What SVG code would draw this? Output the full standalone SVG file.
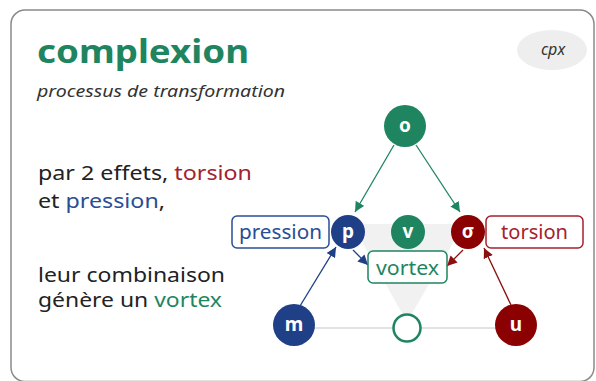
<svg xmlns="http://www.w3.org/2000/svg" width="596" height="381" viewBox="0 0 596 381">
<defs>
<style>
.sans{font-family:"Noto Sans","Open Sans","Liberation Sans",sans-serif}
.body{font-size:19px;fill:#222}
.node text,.lbl{font-family:"Noto Sans","Liberation Sans",sans-serif}
.letter{fill:#fff;font-size:19px;font-weight:bold;text-anchor:middle}
.edge{fill:none;stroke-width:1.3}
.g{stroke:#1e8560}.b{stroke:#1f3f87}.r{stroke:#8b1010}
</style>
<marker id="ag" viewBox="0 0 10 10" refX="10" refY="5" markerWidth="10" markerHeight="10" markerUnits="userSpaceOnUse" orient="auto"><path d="M0,0L10,5L0,10z" fill="#1e8560"/></marker>
<marker id="ab" viewBox="0 0 10 10" refX="10" refY="5" markerWidth="10" markerHeight="10" markerUnits="userSpaceOnUse" orient="auto"><path d="M0,0L10,5L0,10z" fill="#1f3f87"/></marker>
<marker id="ar" viewBox="0 0 10 10" refX="10" refY="5" markerWidth="10" markerHeight="10" markerUnits="userSpaceOnUse" orient="auto"><path d="M0,0L10,5L0,10z" fill="#8b1010"/></marker>
</defs>
<rect x="11" y="10" width="583" height="371.5" rx="14" fill="#fff" stroke="#8a8a8a" stroke-width="1.5"/>
<g id="header">
<text x="37" y="63" class="sans" font-size="33" font-weight="bold" fill="#1e8560" textLength="212" lengthAdjust="spacingAndGlyphs">complexion</text>
<text x="37" y="97" class="sans" font-size="16" font-style="italic" fill="#333" textLength="248" lengthAdjust="spacingAndGlyphs">processus de transformation</text>
<ellipse cx="552" cy="50" rx="35" ry="20" fill="#eeeeee"/>
<text x="553" y="55" class="sans" font-size="16" font-style="italic" fill="#333" text-anchor="middle">cpx</text>
</g>
<g id="body" class="sans body">
<text x="38" y="180" textLength="214" lengthAdjust="spacingAndGlyphs">par 2 effets, <tspan fill="#a3222e">torsion</tspan></text>
<text x="38" y="208" textLength="127" lengthAdjust="spacingAndGlyphs">et <tspan fill="#2a4d94">pression</tspan>,</text>
<text x="38" y="282" textLength="187" lengthAdjust="spacingAndGlyphs">leur combinaison</text>
<text x="38" y="307" textLength="184" lengthAdjust="spacingAndGlyphs">génère un <tspan fill="#1e8560">vortex</tspan></text>
</g>
<g id="background">
<polygon points="352,224 464,224 407,322" fill="#f1f1f1"/>
<line x1="294" y1="328" x2="516" y2="328" stroke="#e2e2e2" stroke-width="2"/>
</g>
<g id="connectors">
<line class="edge g" x1="394" y1="145" x2="355" y2="212" marker-end="url(#ag)"/>
<line class="edge g" x1="416" y1="145" x2="460" y2="212" marker-end="url(#ag)"/>
<line class="edge b" x1="300" y1="306" x2="336" y2="247" marker-end="url(#ab)"/>
<line class="edge b" x1="353" y1="250" x2="368" y2="265" marker-end="url(#ab)"/>
<line class="edge r" x1="463" y1="250" x2="447" y2="266" marker-end="url(#ar)"/>
<line class="edge r" x1="511" y1="305" x2="484" y2="248" marker-end="url(#ar)"/>
</g>
<g id="node-o" class="node"><circle cx="405" cy="126" r="21" fill="#1e8560"/><text x="405" y="132" class="letter">o</text></g>
<g id="node-p" class="node"><circle cx="348" cy="232" r="17" fill="#1f3f87"/><text x="348" y="238" class="letter">p</text></g>
<g id="node-v" class="node"><circle cx="408" cy="232" r="17" fill="#1e8560"/><text x="408" y="238" class="letter">v</text></g>
<g id="node-sigma" class="node"><circle cx="468" cy="232" r="17" fill="#8b0000"/><text x="468" y="238" class="letter">σ</text></g>
<g id="node-m" class="node"><circle cx="294" cy="325" r="21" fill="#1f3f87"/><text x="294" y="331" class="letter">m</text></g>
<g id="node-u" class="node"><circle cx="516" cy="325" r="21" fill="#8b0000"/><text x="516" y="331" class="letter">u</text></g>
<g id="node-center" class="node"><circle cx="407" cy="328" r="13.5" fill="#fff" stroke="#1e8560" stroke-width="2.5"/></g>
<g id="label-pression"><rect x="232" y="216" width="97" height="32" rx="5" fill="#fff" stroke="#2a4d94" stroke-width="1.5"/><text x="280.5" y="239" class="lbl" font-size="19" fill="#2a4d94" text-anchor="middle" textLength="83" lengthAdjust="spacingAndGlyphs">pression</text></g>
<g id="label-torsion"><rect x="486" y="216" width="97" height="32" rx="5" fill="#fff" stroke="#a3222e" stroke-width="1.5"/><text x="534.5" y="239" class="lbl" font-size="19" fill="#a3222e" text-anchor="middle" textLength="67" lengthAdjust="spacingAndGlyphs">torsion</text></g>
<g id="label-vortex"><rect x="368" y="251" width="79" height="32" rx="5" fill="#fff" stroke="#1e8560" stroke-width="1.5"/><text x="407.5" y="275" class="lbl" font-size="19" fill="#1e8560" text-anchor="middle" textLength="63" lengthAdjust="spacingAndGlyphs">vortex</text></g>
</svg>
